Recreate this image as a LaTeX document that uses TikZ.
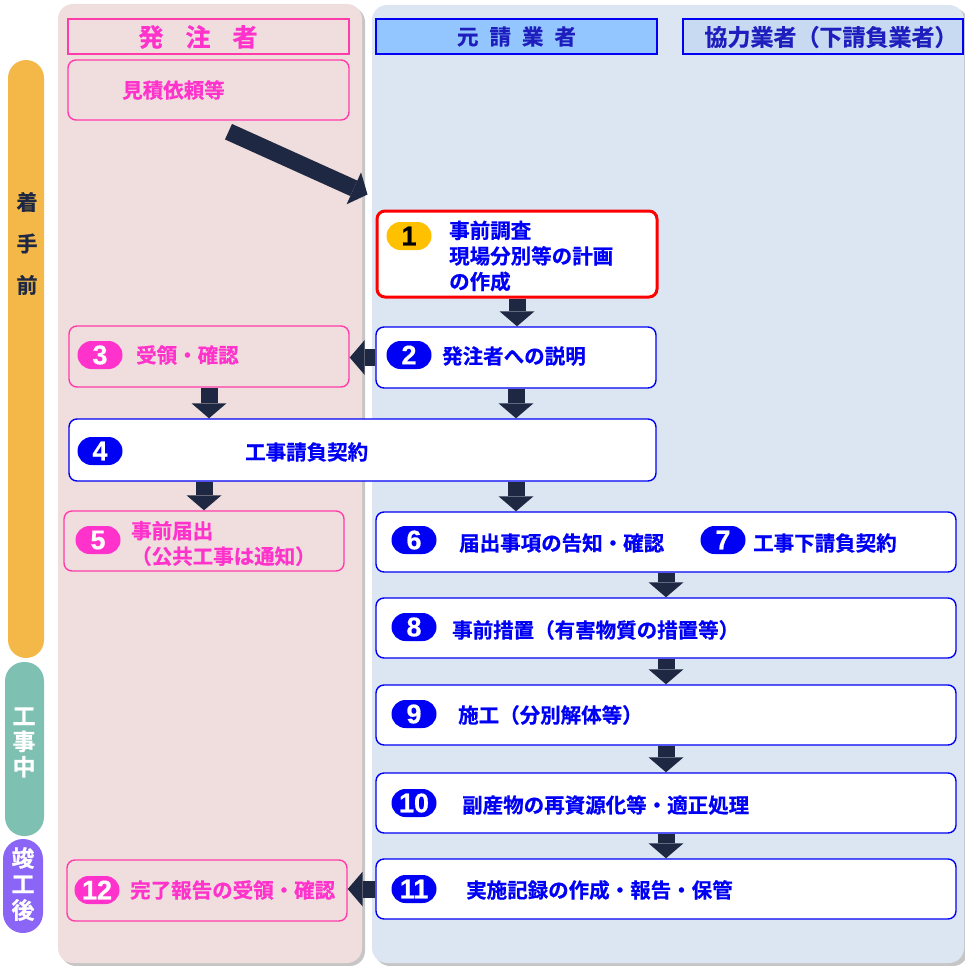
\documentclass[tikz,border=0pt]{standalone}
\usepackage{fontspec}
\setmainfont{Noto Sans CJK JP}[UprightFont={* Bold}, FakeBold=0.6]
\newfontfamily\numfont{Liberation Sans}[UprightFont={* Bold}, FakeBold=0.5]
\usetikzlibrary{arrows.meta,calc}

\definecolor{pinkbg}{RGB}{240,221,221}
\definecolor{bluebg}{RGB}{220,230,242}
\definecolor{pinkline}{RGB}{255,60,170}
\definecolor{pinktext}{RGB}{255,51,204}
\definecolor{boxblue}{RGB}{0,0,245}
\definecolor{headblue}{RGB}{30,30,190}
\definecolor{headfill}{RGB}{147,197,255}
\definecolor{subfill}{RGB}{200,218,242}
\definecolor{arrownavy}{RGB}{31,40,66}
\definecolor{prebar}{RGB}{243,184,72}
\definecolor{midbar}{RGB}{126,193,179}
\definecolor{postbar}{RGB}{139,102,246}
\definecolor{badgeorange}{RGB}{255,192,0}

% numbered pill: name, position, fill, text colour, number
\newcommand\badge[5]{%
\node[badge, fill=#3, text=#4] (#1) at (#2) {#5};
}

\begin{document}
\begin{tikzpicture}[x=1pt,y=-1pt,every node/.style={inner sep=0pt},
	arr/.style={-{Triangle[width=35pt,length=15pt,line width=0pt]}, line width=17pt, draw=arrownavy},
	hdr/.style={draw=#1, line width=1.5pt, minimum width=281pt, minimum height=35pt},
	bbox/.style={draw=boxblue, fill=white, line width=1.4pt, rounded corners=8pt, minimum width=580pt, minimum height=60pt},
	pbox/.style={draw=pinkline, line width=1.4pt, rounded corners=8pt, minimum width=280pt, minimum height=60pt},
	badge/.style={rounded corners=14pt, minimum width=45pt, minimum height=28pt, font=\numfont\fontsize{27}{27}\selectfont},
	lbl/.style={anchor=west, align=left, font=\fontsize{20.5}{25.5}\selectfont, text=boxblue},
	phase/.style={align=center}]
	\useasboundingbox (0,0) rectangle (965,966);

	%% the two lanes
	\fill[gray!45, rounded corners=15pt] (61,7) rectangle (365,966);
	\fill[pinkbg, rounded corners=15pt] (58,4) rectangle (362,963);
	\fill[gray!45, rounded corners=15pt] (375,8) rectangle (968,966);
	\fill[bluebg, rounded corners=15pt] (372,5) rectangle (964,963);

	%% phase bars on the left
	\fill[prebar, rounded corners=18pt] (8,60) rectangle (44,658);
	\fill[midbar, rounded corners=19pt] (5,662) rectangle (44,836);
	\fill[postbar, rounded corners=20pt] (3,839) rectangle (43,933);
	\node[phase, text=arrownavy, font=\fontsize{21}{41.5}\selectfont] (ph1) at (27,243.5) {着\\手\\前};
	\node[phase, text=white, font=\fontsize{23}{25.5}\selectfont] (ph2) at (24,742.5) {工\\事\\中};
	\node[phase, text=white, font=\fontsize{23}{26}\selectfont] (ph3) at (23,884) {竣\\工\\後};

	%% lane headers
	\node[hdr=pinkline] (hdA) at (208.5,36.5) {};
	\node[text=pinktext, font=\fontsize{25}{25}\selectfont] (hdAt) at (198,37) {発\hspace{22pt}注\hspace{22pt}者};
	\node[hdr=boxblue, fill=headfill, text=headblue, font=\fontsize{21.5}{21.5}\selectfont] (hdB) at (516.5,36.5)
		{元\hspace{11pt}請\hspace{11pt}業\hspace{11pt}者};
	\node[hdr=boxblue, fill=subfill, minimum width=280pt] (hdC) at (823,36.5) {};
	\node[text=headblue, font=\fontsize{23}{23}\selectfont] (hdCt) at (831,37) {協力業者（下請負業者）};

	%% boxes
	\node[pbox, minimum width=281pt] (b0) at (208.5,90) {};
	\node[bbox, draw=red, line width=3pt, minimum width=280pt, minimum height=86pt] (b1) at (517,254) {};
	\node[bbox, minimum width=280pt, minimum height=61pt] (b2) at (516,357.5) {};
	\node[pbox, minimum height=61pt] (b3) at (209,356.5) {};
	\node[bbox, minimum width=587pt, minimum height=62pt] (b4) at (362.5,450) {};
	\node[pbox] (b5) at (204,541) {};
	\node[bbox] (b6) at (666,542) {};
	\node[bbox] (b8) at (666,628) {};
	\node[bbox] (b9) at (666,715) {};
	\node[bbox] (b10) at (666,803) {};
	\node[bbox] (b11) at (666,889) {};
	\node[pbox, minimum height=61pt] (b12) at (207,890.5) {};

	\badge{n1}{409,236}{badgeorange}{black}{1}
	\badge{n2}{409,355}{boxblue}{white}{2}
	\badge{n3}{100,355}{pinktext}{white}{3}
	\badge{n4}{100,451}{boxblue}{white}{4}
	\badge{n5}{98,540}{pinktext}{white}{5}
	\badge{n6}{414,540}{boxblue}{white}{6}
	\badge{n7}{723,540}{boxblue}{white}{7}
	\badge{n8}{414,627}{boxblue}{white}{8}
	\badge{n9}{414,714}{boxblue}{white}{9}
	\badge{n10}{414,803}{boxblue}{white}{10}
	\badge{n11}{414,889}{boxblue}{white}{11}
	\badge{n12}{97,890}{pinktext}{white}{12}

	%% texts
	\node[lbl, text=pinktext] (t0) at (122,90) {見積依頼等};
	\node[lbl] (t1) at (449,256) {事前調査\\現場分別等の計画\\の作成};
	\node[lbl] (t2) at (442,356) {発注者への説明};
	\node[lbl, text=pinktext] (t3) at (136,355) {受領・確認};
	\node[lbl] (t4) at (245,452) {工事請負契約};
	\node[lbl, text=pinktext] (t5) at (131,543.5) {事前届出\\（公共工事は通知）};
	\node[lbl] (t6) at (459,543) {届出事項の告知・確認};
	\node[lbl] (t7) at (753,543) {工事下請負契約};
	\node[lbl] (t8) at (452,630) {事前措置（有害物質の措置等）};
	\node[lbl] (t9) at (458,715) {施工（分別解体等）};
	\node[lbl] (t10) at (462,805) {副産物の再資源化等・適正処理};
	\node[lbl] (t11) at (466,890) {実施記録の作成・報告・保管};
	\node[lbl, text=pinktext] (t12) at (130,890) {完了報告の受領・確認};

	%% flow arrows
	\draw[arr] ($(b0.south)+(20,11)$) -- ($(b1.north west)+(-8,-15)$);
	\draw[arr] (b1.south) -- (b1.south |- b2.north);
	\draw[arr] (b2.west) -- (b2.west -| b3.east);
	\draw[arr] (b3.south) -- (b3.south |- b4.north);
	\draw[arr] (b2.south) -- (b2.south |- b4.north);
	\draw[arr] (b5.north |- b4.south) -- (b5.north);
	\draw[arr] (b2.south |- b4.south) -- (b2.south |- b6.north);
	\draw[arr] (b6.south) -- (b8.north);
	\draw[arr] (b8.south) -- (b9.north);
	\draw[arr] (b9.south) -- (b10.north);
	\draw[arr] (b10.south) -- (b11.north);
	\draw[arr] (b11.west) -- (b11.west -| b12.east);
\end{tikzpicture}
\end{document}
